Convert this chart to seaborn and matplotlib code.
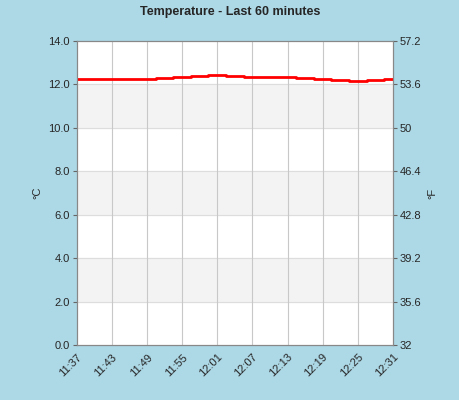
import numpy as np
import pandas as pd
import matplotlib
matplotlib.use("Agg")
import matplotlib.pyplot as plt
import seaborn as sns

# readings every 3 minutes, 11:37 .. 12:31
times = pd.date_range("2024-01-01 11:37", "2024-01-01 12:31", freq="3min")
temps_c = [12.25, 12.25, 12.25, 12.25, 12.25, 12.3, 12.35, 12.4, 12.45, 12.4,
           12.35, 12.35, 12.35, 12.3, 12.25, 12.2, 12.15, 12.2, 12.25]
tick_labels = ["11:37", "11:43", "11:49", "11:55", "12:01", "12:07",
               "12:13", "12:19", "12:25", "12:31"]
left_ticks = [0, 2, 4, 6, 8, 10, 12, 14]
right_ticks = [32, 35.6, 39.2, 42.8, 46.4, 50, 53.6, 57.2]

sns.set_style("white")
plt.rcParams["font.family"] = ["Liberation Sans", "DejaVu Sans"]

bg = "#add8e6"
fig = plt.figure(figsize=(4.6, 4.0), dpi=100, facecolor=bg)
ax = fig.add_axes([0.167, 0.1375, 0.687, 0.76])

x = np.arange(len(times))
for lo in (2, 6, 10):
    ax.axhspan(lo, lo + 2, color="#f3f3f3", zorder=0)
for y in left_ticks[1:-1]:
    ax.axhline(y, color="#dddddd", lw=0.8, zorder=0.5)
tick_pos = x[::2]
for t in tick_pos[1:-1]:
    ax.axvline(t, color="#c8c8c8", lw=0.8, zorder=0.5)

df = pd.DataFrame({"i": x, "t": temps_c})
sns.lineplot(data=df, x="i", y="t", ax=ax, color="red", lw=2,
             drawstyle="steps-mid", zorder=3)

ax.set_xlim(0, x[-1])
ax.set_ylim(0, 14)
ax.set_yticks(left_ticks)
ax.set_yticklabels([f"{v:.1f}" for v in left_ticks], fontsize=8)
ax.set_xticks(tick_pos)
ax.set_xticklabels(tick_labels, rotation=45, ha="right", rotation_mode="anchor", fontsize=8)
ax.set_xlabel("")
ax.set_ylabel("°C", fontsize=8)
ax.tick_params(length=3, color="#666666", pad=2)
for s in ax.spines.values():
    s.set_color("#888888")

ax2 = ax.twinx()
ax2.set_ylim(32, 57.2)
ax2.set_yticks(right_ticks)
ax2.set_yticklabels([f"{v:g}" for v in right_ticks], fontsize=8)
ax2.set_ylabel("°F", fontsize=8)
ax2.tick_params(length=3, color="#666666", pad=2)
for s in ax2.spines.values():
    s.set_color("#888888")

fig.suptitle("Temperature - Last 60 minutes", fontsize=9, fontweight="bold", y=0.985)
fig.savefig("out.png", facecolor=bg)
